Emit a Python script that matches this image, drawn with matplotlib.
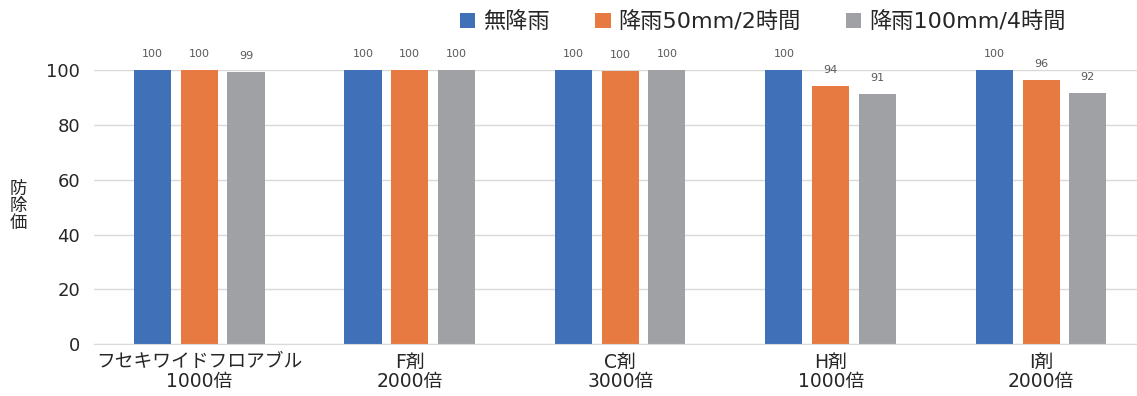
import matplotlib
matplotlib.use("Agg")
import matplotlib.pyplot as plt
from matplotlib.patches import Patch
import numpy as np

# latin glyphs from DejaVu (wide digits), kana/kanji fall back to Noto CJK
plt.rcParams['font.family'] = ['DejaVu Sans', 'Noto Sans CJK JP']

categories = ["フセキワイドフロアブル\n1000倍", "F剤\n2000倍", "C剤\n3000倍", "H剤\n1000倍", "I剤\n2000倍"]
series_names = ["無降雨", "降雨50mm/2時間", "降雨100mm/4時間"]
no_rain = [100, 100, 100, 100, 100]
rain_50 = [100, 100, 99.6, 94.2, 96.3]
rain_100 = [99.3, 100, 100, 91.2, 91.7]
colors = ["#3F70B8", "#E67A41", "#A0A1A5"]

fig = plt.figure(figsize=(11.37, 3.96), dpi=100)
ax = fig.add_axes([0.0827, 0.131, 0.92, 0.692])

x = np.arange(len(categories))
width = 0.176
step = 0.222
text_col = "#262626"

for i, (vals, col) in enumerate(zip([no_rain, rain_50, rain_100], colors)):
  pos = x + (i - 1) * step
  ax.bar(pos, vals, width=width, color=col, zorder=3)
  for px, v in zip(pos, vals):
    ax.text(px, v + 4.0, f"{v:.0f}", ha="center", va="bottom", fontsize=8, color="#595959", clip_on=False)

ax.set_xlim(-0.5, 4.47)
ax.set_ylim(0, 100)
ax.set_yticks(range(0, 101, 20))
ax.grid(axis="y", color="#D9D9D9", linewidth=1, zorder=0)
ax.set_xticks(x)
ax.set_xticklabels(categories, fontsize=13.5, color=text_col, linespacing=1.05)
ax.tick_params(axis="y", labelsize=13, labelcolor=text_col, length=0, pad=10)
ax.tick_params(axis="x", length=0, pad=6)
for s in ["top", "right", "left"]:
  ax.spines[s].set_visible(False)
ax.spines["bottom"].set_color("#D9D9D9")
ax.spines["bottom"].set_zorder(4)

fig.text(0.016, 0.48, "防\n除\n価", fontsize=12.5, color=text_col, ha="center", va="center", linespacing=0.95)

handles = [Patch(facecolor=c, label=n) for c, n in zip(colors, series_names)]
fig.legend(handles=handles, loc="center", bbox_to_anchor=(0.671, 0.945), ncol=3, frameon=False,
           fontsize=16, handlelength=0.68, handleheight=0.68, handletextpad=0.35, columnspacing=2.05,
           labelcolor=text_col)

fig.savefig("out.png", dpi=100)
